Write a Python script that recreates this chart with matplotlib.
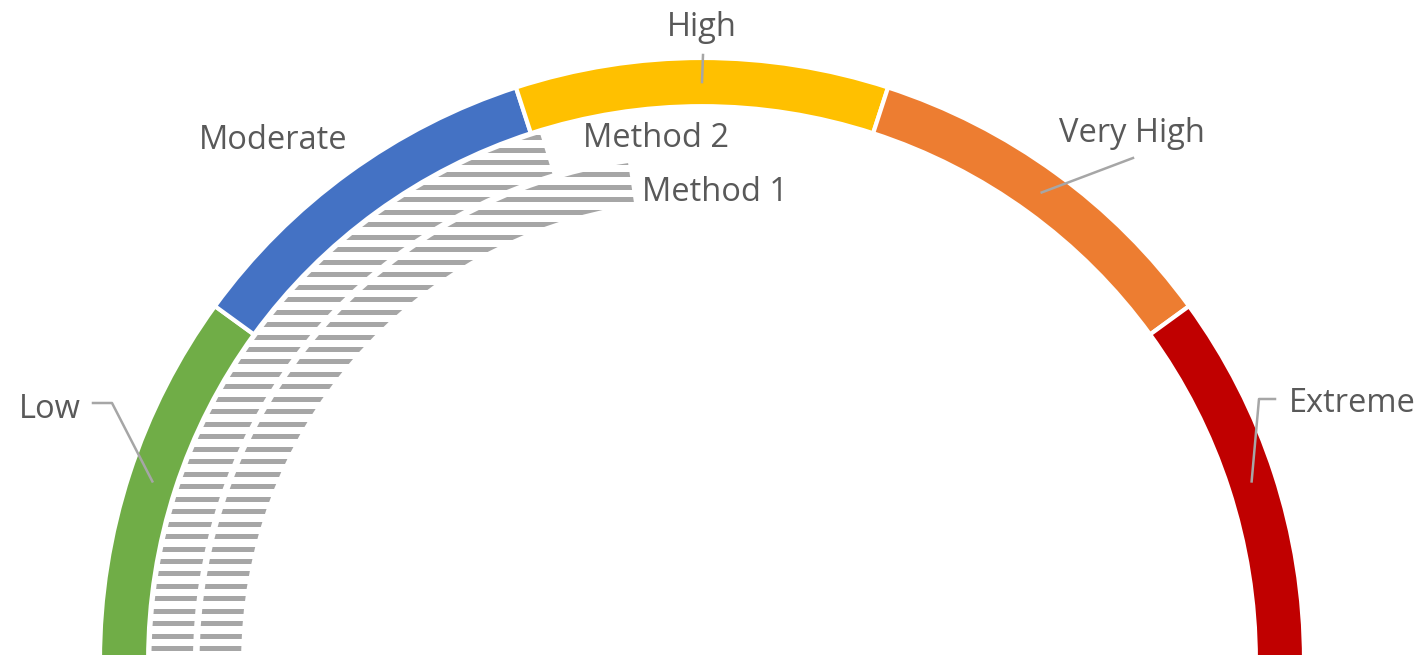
import numpy as np
import matplotlib.pyplot as plt
from matplotlib.collections import LineCollection

# gauge bands (top half of a doughnut, bottom half hidden)
categories = ['Low', 'Moderate', 'High', 'Very High', 'Extreme']
band_values = [20, 20, 20, 20, 20]
band_colors = ['#70AD47', '#4472C4', '#FFC000', '#ED7D31', '#C00000']

# inner rings
methods = ['Method 1', 'Method 2']
method_values = [45.3, 40.5]

plt.rcParams['font.family'] = ['Open Sans', 'DejaVu Sans']

W, H = 1418, 655
CX, CY, R = 702, 660, 602.0   # centre and outer radius in pixels


def px(x, y):
    return (x - CX) / R, (CY - y) / R


fig = plt.figure(figsize=(W / 100, H / 100), dpi=100)
ax = fig.add_axes([0, 0, 1, 1])

ring = 0.08
gap = 0.0055
total = sum(band_values)

wedges, _ = ax.pie(band_values + [total], radius=1.0, startangle=180,
                   counterclock=False, colors=band_colors + ['white'],
                   wedgeprops=dict(width=ring, edgecolor='white', linewidth=3))
wedges[-1].set_visible(False)

# striped method rings (horizontal dash pattern clipped to each ring)
stripe_y = np.arange((CY - 648.3) / R, 1.0, 12.47 / R)
segs = [[(-1.2, y), (1.2, y)] for y in stripe_y]
for i, (name, val) in enumerate(zip(methods, method_values)):
    r = 1 - ring * (2 - i) - gap
    w, _ = ax.pie([val, 2 * total - val], radius=r, startangle=180,
                  counterclock=False, colors=['none', 'none'],
                  wedgeprops=dict(width=ring - 2 * gap, edgecolor='none'))
    w[1].set_visible(False)
    lc = LineCollection(segs, colors='#A6A6A6', linewidths=3.6,
                        capstyle='butt', zorder=2)
    ax.add_collection(lc)
    lc.set_clip_path(w[0])

# data labels
label_color = '#595959'
lead_color = '#A6A6A6'
label_pos = {'Low': (50, 418), 'Moderate': (273, 149), 'High': (702, 36),
             'Very High': (1132, 142), 'Extreme': (1352, 412)}
leaders = {'Low': [(93, 403), (112, 403)],
           'High': [(703, 55)],
           'Very High': [(1133, 158)],
           'Extreme': [(1275, 399), (1259, 399)]}

mid_r = 1 - ring / 2
cum = 0
for name, val in zip(categories, band_values):
    ang = np.radians(180 - 180 * (cum + val / 2) / total)
    cum += val
    x, y = px(*label_pos[name])
    ax.text(x, y, name, ha='center', va='baseline', fontsize=23.5,
            color=label_color)
    if name in leaders:
        pts = [px(*p) for p in leaders[name]]
        pts.append((mid_r * np.cos(ang), mid_r * np.sin(ang)))
        xs, ys = zip(*pts)
        ax.plot(xs, ys, color=lead_color, lw=1.8, zorder=4)

method_pos = {'Method 1': (642, 201), 'Method 2': (583, 147)}
for name in methods:
    x, y = px(*method_pos[name])
    ax.text(x, y, name, ha='left', va='baseline', fontsize=23.5,
            color=label_color)

ax.set_xlim(-CX / R, (W - CX) / R)
ax.set_ylim((CY - H) / R, CY / R)
ax.set_aspect('auto')
ax.axis('off')

plt.savefig('out.png', dpi=100)
